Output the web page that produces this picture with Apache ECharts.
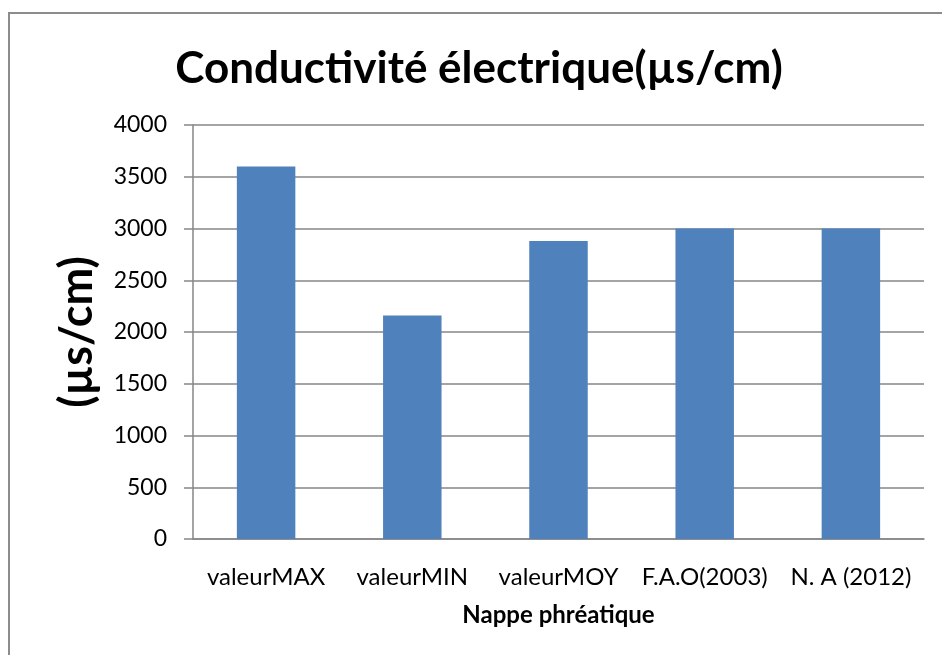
<!DOCTYPE html>
<html>
<head>
<meta charset="utf-8">
<title>Conductivité électrique</title>
<script src="https://cdn.jsdelivr.net/npm/echarts@6/dist/echarts.min.js"></script>
<style>
    html, body { margin: 0; padding: 0; background: #fff; }
    #main { width: 942px; height: 655px; }
</style>
</head>
<body>
<div id="main"></div>
<script>
// catégories et valeurs
var categories = ['valeurMAX', 'valeurMIN', 'valeurMOY', 'F.A.O(2003)', 'N. A (2012)'];
var values = [3600, 2160, 2880, 3000, 3000];
var yTicks = [0, 500, 1000, 1500, 2000, 2500, 3000, 3500, 4000];

var font = 'Lato, "Open Sans", sans-serif';
var gray = '#868686';

var myChart = echarts.init(document.getElementById('main'));

var option = {
    backgroundColor: '#fff',
    animation: false,
    title: {
        text: 'Conductivité électrique(µs/cm)',
        left: 474,
        top: 42,
        textAlign: 'center',
        textStyle: {
            fontFamily: font,
            fontWeight: 'bold',
            fontSize: 44,
            color: '#000'
        }
    },
    // cadre du graphique
    graphic: [{
        type: 'rect',
        shape: { x: 9, y: 13, width: 1000, height: 700 },
        style: { fill: 'none', stroke: '#8c8c8c', lineWidth: 2 },
        silent: true
    }],
    grid: {
        left: 193,
        right: 18,
        top: 125,
        bottom: 116
    },
    xAxis: {
        type: 'category',
        data: categories,
        name: 'Nappe phréatique',
        nameLocation: 'middle',
        nameGap: 64,
        nameTextStyle: {
            fontFamily: font,
            fontWeight: 'bold',
            fontSize: 24,
            color: '#000'
        },
        axisLine: { lineStyle: { color: gray, width: 1.5 } },
        axisTick: { show: false },
        axisLabel: {
            interval: 0,
            fontFamily: font,
            fontSize: 24,
            color: '#000',
            margin: 26
        }
    },
    yAxis: {
        type: 'value',
        min: yTicks[0],
        max: yTicks[yTicks.length - 1],
        interval: yTicks[1] - yTicks[0],
        name: '(µs/cm)',
        nameLocation: 'middle',
        nameGap: 93,
        nameTextStyle: {
            fontFamily: font,
            fontWeight: 'bold',
            fontSize: 45,
            color: '#000'
        },
        axisLine: { show: true, lineStyle: { color: gray, width: 1.5 } },
        axisTick: { show: true, length: 9, lineStyle: { color: gray, width: 1.5 } },
        splitLine: { lineStyle: { color: gray, width: 1.5 } },
        axisLabel: {
            fontFamily: font,
            fontSize: 23,
            color: '#000',
            margin: 26,
            formatter: function (v) { return String(v); }
        }
    },
    series: [{
        type: 'bar',
        data: values,
        barWidth: '40%',
        itemStyle: { color: '#4f81bd' }
    }]
};

myChart.setOption(option);
</script>
</body>
</html>
